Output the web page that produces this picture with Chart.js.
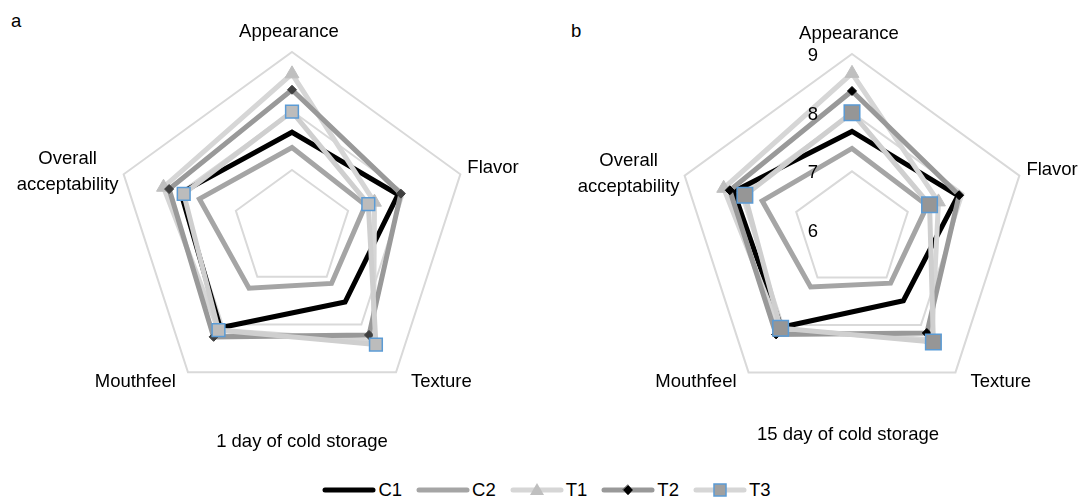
<!DOCTYPE html>
<html>
<head>
<meta charset="utf-8">
<script src="https://cdn.jsdelivr.net/npm/chart.js@4"></script>
<style>
  body { margin: 0; background: #fff; width: 1081px; height: 500px; overflow: hidden; position: relative;
         font-family: "Liberation Sans", Arial, sans-serif; color: #000; }
  .box { position: absolute; top: 0; width: 640px; height: 440px; }
  .tag { position: absolute; font-size: 18.5px; }
  .sub { position: absolute; font-size: 18.5px; width: 300px; text-align: center; }
  #legend { position: absolute; left: 0; width: 1081px; top: 479px; display: flex; justify-content: center;
            font-size: 18.5px; line-height: 22px; padding-left: 12px; box-sizing: border-box; }
  #legend .item { display: flex; align-items: center; margin: 0 7px; }
  #legend canvas { margin-right: 2px; }
</style>
</head>
<body>
<div class="tag" style="left:11px;top:10px">a</div>
<div class="tag" style="left:571px;top:20px">b</div>
<div class="box" style="left:-28px"><canvas id="chartA"></canvas></div>
<div class="box" style="left:532px"><canvas id="chartB"></canvas></div>
<div class="sub" style="left:152px;top:430px">1 day of cold storage</div>
<div class="sub" style="left:698px;top:423px">15 day of cold storage</div>
<div id="legend"></div>
<script>
const attributes = ['Appearance', 'Flavor', 'Texture', 'Mouthfeel', ['Overall', 'acceptability']];
const seriesNames = ['C1', 'C2', 'T1', 'T2', 'T3'];
const tickValues = [6, 7, 8, 9];

// 1 day of cold storage
const day1C1 = [7.64, 7.89, 7.53, 8.07, 7.98];
const day1C2 = [7.38, 7.31, 7.14, 7.24, 7.65];
const day1T1 = [8.63, 7.47, 8.35, 8.12, 8.29];
const day1T2 = [8.36, 7.94, 8.22, 8.26, 8.19];
const day1T3 = [7.99, 7.36, 8.42, 8.12, 7.93];

// 15 day of cold storage
const day15C1 = [7.68, 7.90, 7.49, 8.05, 8.12];
const day15C2 = [7.39, 7.35, 7.12, 7.20, 7.61];
const day15T1 = [8.67, 7.55, 8.31, 8.10, 8.30];
const day15T2 = [8.37, 7.92, 8.17, 8.20, 8.19];
const day15T3 = [8.00, 7.39, 8.36, 8.07, 7.92];

const FONT = '"Liberation Sans", Arial, sans-serif';

function makeDatasets(vals, big) {
  const base = { fill: false, tension: 0, borderWidth: 5, pointHoverRadius: 0 };
  return [
    Object.assign({}, base, { label: 'C1', data: vals[0], borderColor: '#000000', pointRadius: 0, order: 4 }),
    Object.assign({}, base, { label: 'C2', data: vals[1], borderColor: '#a5a5a5', pointRadius: 0, order: 3 }),
    Object.assign({}, base, { label: 'T1', data: vals[2], borderColor: '#d6d6d6', pointStyle: 'triangle',
      pointRadius: 8, pointBackgroundColor: '#bfbfbf', pointBorderColor: '#bfbfbf', pointBorderWidth: 1, order: 2 }),
    Object.assign({}, base, { label: 'T2', data: vals[3], borderColor: '#999999', pointStyle: 'rectRot',
      pointRadius: 4.5, pointBackgroundColor: big ? '#000000' : '#404040', pointBorderColor: big ? '#000000' : '#404040',
      pointBorderWidth: 1, order: 1 }),
    Object.assign({}, base, { label: 'T3', data: vals[4], borderColor: '#cfcfcf', pointStyle: 'rect',
      pointRadius: big ? 11 : 9, pointBackgroundColor: big ? '#969696' : '#bcbcbc', pointBorderColor: '#5b9bd5',
      pointBorderWidth: 1.5, order: 0 })
  ];
}

// where each category name sits relative to its outer corner (dx, dy, align)
const labelPlace = [
  { dx: -3, dy: -20, align: 'center' },
  { dx: 7, dy: -6, align: 'left' },
  { dx: 15, dy: 10, align: 'left' },
  { dx: -12, dy: 10, align: 'right' },
  { dx: -56, dy: -2, align: 'center' }
];

const axisText = {
  id: 'axisText',
  afterDatasetsDraw(chart, args, opts) {
    const s = chart.scales.r;
    const ctx = chart.ctx;
    ctx.save();
    ctx.font = '18.5px ' + FONT;
    ctx.fillStyle = '#000';
    ctx.textBaseline = 'middle';
    // category names
    attributes.forEach((lab, i) => {
      const p = s.getPointPosition(i, s.drawingArea);
      const pl = labelPlace[i];
      const lines = Array.isArray(lab) ? lab : [lab];
      ctx.textAlign = pl.align;
      lines.forEach((ln, k) => {
        const y = p.y + pl.dy + (k - (lines.length - 1) / 2) * 26;
        ctx.fillText(ln, p.x + pl.dx, y);
      });
    });
    // value labels
    if (opts.showTicks) {
      ctx.textAlign = 'center';
      tickValues.forEach(v => {
        const d = s.getDistanceFromCenterForValue(v);
        ctx.fillText(String(v), s.xCenter - 39, s.yCenter - d + 2);
      });
    }
    ctx.restore();
  }
};

function makeChart(id, vals, big) {
  return new Chart(document.getElementById(id), {
    type: 'radar',
    data: { labels: attributes, datasets: makeDatasets(vals, big) },
    plugins: [axisText],
    options: {
      responsive: true,
      maintainAspectRatio: false,
      animation: false,
      layout: { padding: big ? { top: 54, bottom: 34 } : { top: 52, bottom: 33 } },
      plugins: {
        legend: { display: false },
        tooltip: { enabled: false },
        axisText: { showTicks: big }
      },
      scales: {
        r: {
          min: 6,
          max: 9,
          ticks: { display: false, stepSize: 1 },
          grid: { color: '#d9d9d9', lineWidth: 2 },
          angleLines: { display: false },
          pointLabels: { display: false }
        }
      }
    }
  });
}

makeChart('chartA', [day1C1, day1C2, day1T1, day1T2, day1T3], false);
makeChart('chartB', [day15C1, day15C2, day15T1, day15T2, day15T3], true);

// shared legend
const legendStyles = [
  { color: '#000000', marker: null },
  { color: '#a5a5a5', marker: null },
  { color: '#d6d6d6', marker: 'triangle' },
  { color: '#999999', marker: 'diamond' },
  { color: '#d6d6d6', marker: 'square' }
];
const legendEl = document.getElementById('legend');
seriesNames.forEach((name, i) => {
  const st = legendStyles[i];
  const item = document.createElement('div');
  item.className = 'item';
  const c = document.createElement('canvas');
  c.width = 54; c.height = 16;
  const g = c.getContext('2d');
  g.strokeStyle = st.color; g.lineWidth = 5; g.lineCap = 'round';
  g.beginPath(); g.moveTo(3, 8); g.lineTo(51, 8); g.stroke();
  if (st.marker === 'triangle') {
    g.fillStyle = '#bfbfbf';
    g.beginPath(); g.moveTo(27, 1); g.lineTo(34, 13); g.lineTo(20, 13); g.closePath(); g.fill();
  } else if (st.marker === 'diamond') {
    g.fillStyle = '#000'; g.strokeStyle = '#555'; g.lineWidth = 1;
    g.beginPath(); g.moveTo(27, 3); g.lineTo(32, 8); g.lineTo(27, 13); g.lineTo(22, 8); g.closePath(); g.fill(); g.stroke();
  } else if (st.marker === 'square') {
    g.fillStyle = '#a0a0a0'; g.fillRect(21, 2, 12, 12);
    g.strokeStyle = '#5b9bd5'; g.lineWidth = 1.5; g.strokeRect(21, 2, 12, 12);
  }
  item.appendChild(c);
  const t = document.createElement('span');
  t.textContent = name;
  item.appendChild(t);
  legendEl.appendChild(item);
});
</script>
</body>
</html>
